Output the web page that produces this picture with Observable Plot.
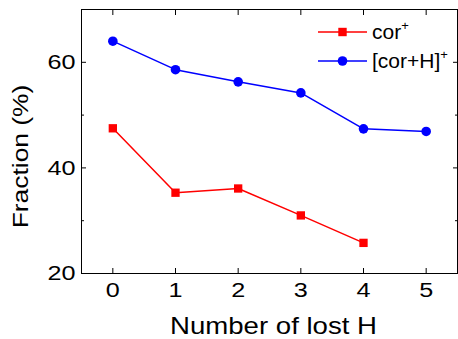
<!DOCTYPE html>
<html><head><meta charset="utf-8">
<script src="https://cdn.jsdelivr.net/npm/d3@7"></script>
<script src="https://cdn.jsdelivr.net/npm/@observablehq/plot@0.6"></script>
<style>
body{margin:0;background:#fff;font-family:"Liberation Sans",Arial,sans-serif}
#wrap{position:relative;width:458px;height:339px}
#legend{position:absolute;left:0;top:0;pointer-events:none}
</style></head><body><div id="wrap"></div>
<script>
const lostH = [0, 1, 2, 3, 4, 5];
const corValues = [47.5, 35.3, 36.1, 31.0, 25.8];
const corHValues = [64.0, 58.6, 56.3, 54.2, 47.4, 46.9];
const seriesNames = ["cor", "[cor+H]"];
const seriesColors = ["#ff0000", "#0000ff"];
const xTicks = [0, 1, 2, 3, 4, 5];
const yTicks = [20, 40, 60];
const yMinorTicks = [30, 50];
const xLabel = "Number of lost H";
const yLabel = "Fraction (%)";

const corData = corValues.map((v, i) => ({x: lostH[i], y: v}));
const corHData = corHValues.map((v, i) => ({x: lostH[i], y: v}));

const blank = () => "";
const intFmt = d3.format("d");
const chart = Plot.plot({
  width: 458, height: 339,
  marginLeft: 81, marginRight: 1, marginTop: 9, marginBottom: 66,
  style: {fontFamily: "'Liberation Sans', Arial, sans-serif", fontSize: "21px", color: "#000", background: "transparent", overflow: "visible"},
  x: {domain: [-0.5, 5.5], label: null},
  y: {domain: [20, 70], label: null},
  marks: [
    Plot.frame({stroke: "#000", strokeWidth: 1}),
    // tick labels
    Plot.axisX({ticks: xTicks, tickSize: 0, tickPadding: 9, tickFormat: intFmt, label: null, fontSize: 21}),
    Plot.axisY({ticks: yTicks, tickSize: 0, tickPadding: 6, tickFormat: intFmt, label: null, fontSize: 21}),
    // inward tick marks
    Plot.axisX({ticks: xTicks, tickSize: 5, dy: -5, tickFormat: blank, label: null}),
    Plot.axisX({anchor: "top", ticks: xTicks, tickSize: 5, dy: 5, tickFormat: blank, label: null}),
    Plot.axisY({ticks: yTicks, tickSize: 5, dx: 5, tickFormat: blank, label: null}),
    Plot.axisY({ticks: yMinorTicks, tickSize: 3, dx: 3, tickFormat: blank, label: null}),
    Plot.axisY({anchor: "right", ticks: yTicks, tickSize: 5, dx: -5, tickFormat: blank, label: null}),
    Plot.axisY({anchor: "right", ticks: yMinorTicks, tickSize: 3, dx: -3, tickFormat: blank, label: null}),
    // axis titles
    Plot.text([xLabel], {frameAnchor: "bottom", dx: 4, dy: 60, fontSize: 23}),
    Plot.text([yLabel], {frameAnchor: "left", textAnchor: "middle", lineAnchor: "middle", rotate: -90, dx: -61, dy: 15, fontSize: 22}),
    // data
    Plot.line(corData, {x: "x", y: "y", stroke: seriesColors[0], strokeWidth: 1.5}),
    Plot.dot(corData, {x: "x", y: "y", symbol: "square", fill: seriesColors[0], r: 4.7}),
    Plot.line(corHData, {x: "x", y: "y", stroke: seriesColors[1], strokeWidth: 1.5}),
    Plot.dot(corHData, {x: "x", y: "y", symbol: "circle", fill: seriesColors[1], r: 4.8})
  ]
});

// widen the glyphs of axis texts like the reference
chart.querySelectorAll("text").forEach(t => {
  let tr = t.getAttribute("transform");
  if (!tr) {
    const x = +t.getAttribute("x") || 0, y = +t.getAttribute("y") || 0;
    t.removeAttribute("x"); t.removeAttribute("y");
    tr = `translate(${x},${y})`;
  }
  t.setAttribute("transform", tr + " scale(1.2,1)");
});

const wrap = document.getElementById("wrap");
wrap.appendChild(chart);

// legend
const ns = "http://www.w3.org/2000/svg";
const leg = document.createElementNS(ns, "svg");
leg.setAttribute("id", "legend");
leg.setAttribute("width", 458);
leg.setAttribute("height", 339);
const rows = [{y: 32, sym: "square"}, {y: 61, sym: "circle"}];
rows.forEach((r, i) => {
  const c = seriesColors[i];
  const ln = document.createElementNS(ns, "line");
  ln.setAttribute("x1", 318); ln.setAttribute("x2", 367);
  ln.setAttribute("y1", r.y); ln.setAttribute("y2", r.y);
  ln.setAttribute("stroke", c); ln.setAttribute("stroke-width", 1.5);
  leg.appendChild(ln);
  let m;
  if (r.sym === "square") {
    m = document.createElementNS(ns, "rect");
    m.setAttribute("x", 342.5 - 4.2); m.setAttribute("y", r.y - 4.2);
    m.setAttribute("width", 8.4); m.setAttribute("height", 8.4);
  } else {
    m = document.createElementNS(ns, "circle");
    m.setAttribute("cx", 342.5); m.setAttribute("cy", r.y); m.setAttribute("r", 4.8);
  }
  m.setAttribute("fill", c);
  leg.appendChild(m);
  const tx = document.createElementNS(ns, "text");
  tx.setAttribute("x", 372); tx.setAttribute("y", r.y + 6.5);
  tx.setAttribute("font-family", "'Liberation Sans', Arial, sans-serif");
  tx.setAttribute("font-size", 21);
  tx.setAttribute("fill", "#000");
  const main = document.createElementNS(ns, "tspan");
  main.textContent = seriesNames[i];
  const sup = document.createElementNS(ns, "tspan");
  sup.setAttribute("font-size", 13);
  sup.setAttribute("dy", -9);
  sup.textContent = "+";
  tx.appendChild(main); tx.appendChild(sup);
  leg.appendChild(tx);
});
wrap.appendChild(leg);
</script>
</body></html>
